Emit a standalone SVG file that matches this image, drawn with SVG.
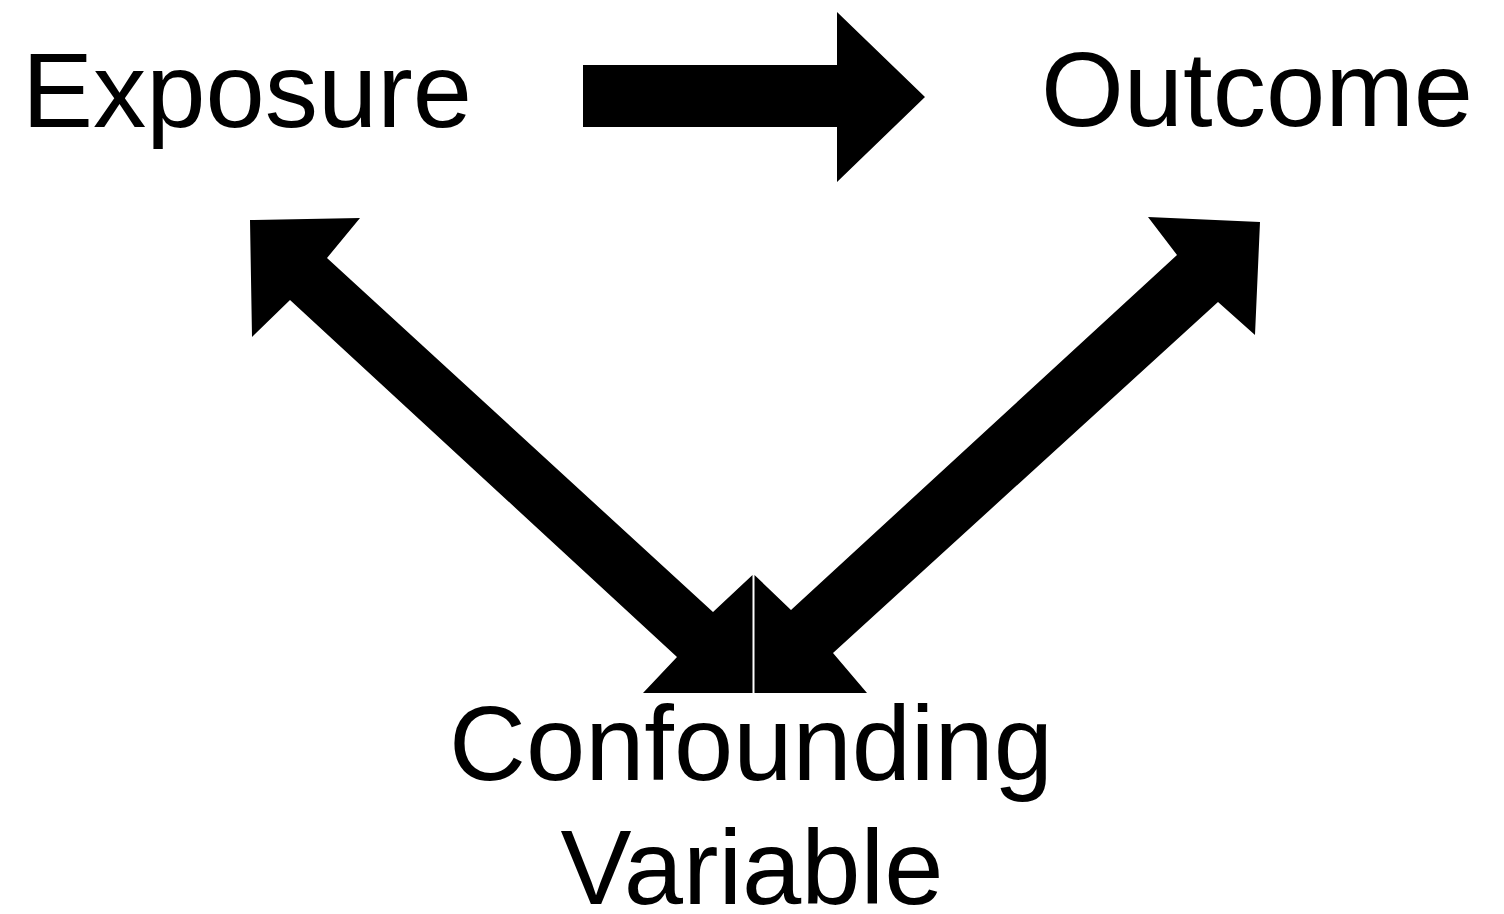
<svg xmlns="http://www.w3.org/2000/svg" width="1504" height="914" viewBox="0 0 1504 914">
  <style>
    .label { font-family: "Liberation Sans", Arial, Helvetica, sans-serif; font-size: 106.5px; fill: #000; }
    .arrow { fill: #000; stroke: none; }
  </style>
  <rect width="1504" height="914" fill="#fff"/>

  <g id="exposure">
    <text class="label" x="22" y="127">Exposure</text>
  </g>
  <g id="outcome">
    <text class="label" x="1041" y="126">Outcome</text>
  </g>
  <g id="confounding-variable">
    <text class="label" x="751" y="780" text-anchor="middle">Confounding</text>
    <text class="label" x="752" y="904" text-anchor="middle">Variable</text>
  </g>

  <g id="connectors">
    <!-- Exposure to Outcome -->
    <polygon class="arrow" points="583,65 837,65 837,12 925,97 837,182 837,127 583,127"/>
    <!-- Exposure and Confounding Variable, heads at both ends -->
    <polygon class="arrow" points="250,220 360,218 327,258 713,612 752.5,575 752.5,693 643,693 677,657 290,300 252,337"/>
    <!-- Outcome and Confounding Variable, heads at both ends -->
    <polygon class="arrow" points="1260,222 1255,335 1218,302 833,653 867,693 754.5,693 754.5,575 791,610 1177,255 1148,217"/>
  </g>
</svg>
